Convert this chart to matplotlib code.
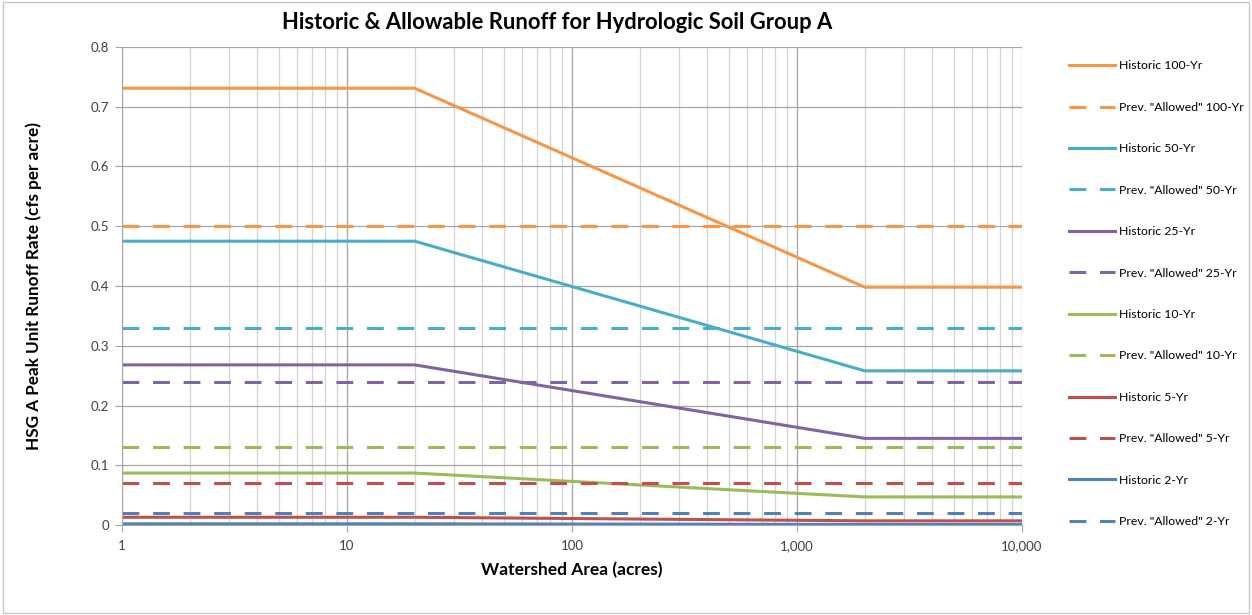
import matplotlib
matplotlib.use("Agg")
import matplotlib.pyplot as plt
import matplotlib.ticker as mticker
import numpy as np

plt.rcParams['font.family'] = ['Lato', 'DejaVu Sans']

# breakpoints of the historic curves (acres)
area = [1, 20, 2000, 10000]

storms = ["100-Yr", "50-Yr", "25-Yr", "10-Yr", "5-Yr", "2-Yr"]
hist_small = [0.731, 0.475, 0.268, 0.087, 0.013, 0.002]   # flat part, area <= 20
hist_large = [0.398, 0.258, 0.145, 0.047, 0.007, 0.001]   # flat part, area >= 2000
allowed = [0.50, 0.33, 0.24, 0.13, 0.07, 0.02]
colors = ["#F79646", "#4BACC6", "#8064A2", "#9BBB59", "#C0504D", "#4F81BD"]

fig = plt.figure(figsize=(12.52, 6.15), dpi=100)
ax = fig.add_axes([0.0974, 0.1463, 0.7189, 0.7773])

for i in range(len(storms)):
    y = [hist_small[i], hist_small[i], hist_large[i], hist_large[i]]
    ax.plot(area, y, color=colors[i], lw=2.2, label="Historic " + storms[i])
    ax.plot([area[0], area[-1]], [allowed[i], allowed[i]], color=colors[i], lw=2.2,
            dashes=(5.5, 4.5), label='Prev. "Allowed" ' + storms[i])

ax.set_xscale("log")
ax.set_xlim(1, 10000)
ax.set_ylim(0, 0.8)
ax.set_yticks(np.arange(0, 0.81, 0.1))
ax.yaxis.set_major_formatter(mticker.FuncFormatter(lambda v, p: "0" if v == 0 else "%.1f" % v))
ax.xaxis.set_major_formatter(mticker.FuncFormatter(lambda v, p: "{:,.0f}".format(v)))
ax.xaxis.set_minor_locator(mticker.LogLocator(base=10, subs=np.arange(2, 10), numticks=20))
ax.xaxis.set_minor_formatter(mticker.NullFormatter())

ax.grid(True, which="major", color="#a6a6a6", lw=0.9)
ax.grid(True, which="minor", axis="x", color="#d4d4d4", lw=0.9)
ax.set_axisbelow(True)
for s in ["top", "right"]:
    ax.spines[s].set_visible(False)
ax.spines["left"].set_color("#a6a6a6")
ax.spines["bottom"].set_color("#a6a6a6")
ax.tick_params(which="both", length=0, labelsize=9.5, colors="#404040", pad=6)
ax.tick_params(axis="y", length=5, color="#a6a6a6", pad=4)
ax.tick_params(axis="x", which="major", length=5, color="#a6a6a6")

fig.text(0.445, 0.963, "Historic & Allowable Runoff for Hydrologic Soil Group A",
         fontsize=15.8, fontweight="bold", ha="center", va="center")
ax.set_xlabel("Watershed Area (acres)", fontsize=12.5, fontweight="bold", labelpad=7)
ax.set_ylabel("HSG A Peak Unit Runoff Rate (cfs per acre)", fontsize=12.3,
              fontweight="bold", labelpad=35)

ax.legend(loc="upper left", bbox_to_anchor=(1.04, 0.995), frameon=False,
          fontsize=8.8, labelspacing=2.49, handlelength=3.8, handletextpad=0.3)

fig.patches.append(plt.Rectangle((0.002, 0.004), 0.996, 0.992, transform=fig.transFigure,
                                 fill=False, edgecolor="#c8c8c8", lw=1))

fig.savefig("out.png", dpi=100)
